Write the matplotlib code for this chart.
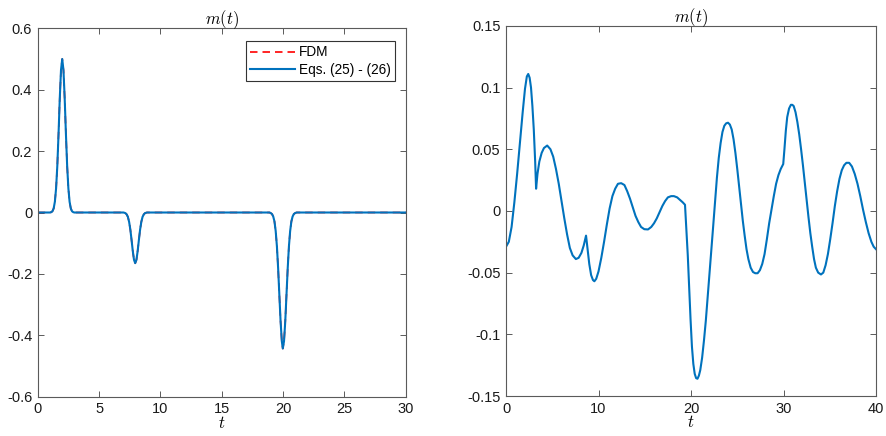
import matplotlib
matplotlib.use("Agg")
import matplotlib.pyplot as plt

plt.rcParams['font.family'] = ['Liberation Sans', 'DejaVu Sans']
plt.rcParams['mathtext.fontset'] = 'cm'

# ---- Left panel data ----
t_left = [0.0, 1.0, 1.1, 1.2, 1.3, 1.4, 1.5, 1.6, 1.7, 1.8, 1.9, 2.0, 2.1, 2.2, 2.3, 2.4,
          2.5, 2.6, 2.7, 2.8, 2.9, 3.0,
          7.0, 7.15, 7.25, 7.35, 7.45, 7.55, 7.65, 7.75, 7.85, 7.95, 8.05, 8.15, 8.25,
          8.35, 8.45, 8.55, 8.65, 8.75, 8.9,
          18.9, 19.0, 19.1, 19.2, 19.3, 19.4, 19.5, 19.6, 19.7, 19.8, 19.9, 19.98,
          20.08, 20.18, 20.28, 20.38, 20.48, 20.58, 20.68, 20.78, 20.88, 20.98, 21.1,
          30.0]
m_left = [0.0, 0.0, 0.001, 0.004, 0.013, 0.035, 0.079, 0.153, 0.257, 0.372, 0.464, 0.5,
          0.464, 0.372, 0.257, 0.153, 0.079, 0.035, 0.013, 0.004, 0.001, 0.0,
          0.0, -0.002, -0.006, -0.014, -0.030, -0.055, -0.089, -0.125, -0.154, -0.165,
          -0.154, -0.125, -0.089, -0.055, -0.030, -0.014, -0.006, -0.002, 0.0,
          0.0, -0.002, -0.005, -0.013, -0.029, -0.060, -0.110, -0.182, -0.269, -0.355,
          -0.419, -0.443, -0.419, -0.355, -0.269, -0.182, -0.110, -0.060, -0.029,
          -0.013, -0.005, -0.002, 0.0,
          0.0]

# ---- Right panel data ----
t_right = [0.0, 0.3, 0.6, 0.9, 1.2, 1.5, 1.8, 2.05, 2.25, 2.4, 2.55, 2.7, 2.85, 3.0, 3.15,
           3.25, 3.4, 3.6, 3.85, 4.1, 4.45, 4.8, 5.1, 5.4, 5.7, 6.0, 6.3, 6.6, 6.9, 7.2,
           7.55, 7.85, 8.15, 8.4, 8.65, 8.8, 9.0, 9.2, 9.4, 9.55, 9.75, 10.0, 10.3, 10.6,
           10.9, 11.2, 11.5, 11.8, 12.1, 12.45, 12.8, 13.1, 13.4, 13.7, 14.0, 14.3, 14.6,
           14.95, 15.35, 15.7, 16.0, 16.3, 16.6, 16.9, 17.2, 17.5, 17.85, 18.15, 18.5,
           18.8, 19.1, 19.35, 19.5, 19.65, 19.8, 19.95, 20.1, 20.25, 20.4, 20.55, 20.7,
           20.85, 21.0, 21.2, 21.4, 21.6, 21.8, 22.0, 22.2, 22.4, 22.6, 22.8, 23.0, 23.2,
           23.4, 23.6, 23.8, 24.0, 24.2, 24.4, 24.6, 24.8, 25.0, 25.2, 25.4, 25.6, 25.8,
           26.0, 26.2, 26.45, 26.7, 26.95, 27.2, 27.45, 27.7, 27.95, 28.2, 28.45, 28.7,
           28.95, 29.2, 29.45, 29.7, 29.97, 30.1, 30.25, 30.4, 30.6, 30.8, 30.95, 31.1,
           31.3, 31.5, 31.7, 31.9, 32.1, 32.3, 32.5, 32.7, 32.9, 33.1, 33.3, 33.5, 33.75,
           34.05, 34.3, 34.55, 34.8, 35.05, 35.3, 35.55, 35.8, 36.05, 36.3, 36.55, 36.8,
           37.1, 37.4, 37.7, 38.0, 38.3, 38.6, 38.9, 39.2, 39.5, 39.75, 40.0]
m_right = [-0.029, -0.025, -0.013, 0.007, 0.030, 0.055, 0.080, 0.099, 0.109, 0.111, 0.108,
           0.100, 0.085, 0.066, 0.040, 0.018, 0.030, 0.040, 0.047, 0.051, 0.053, 0.050,
           0.044, 0.034, 0.022, 0.008, -0.006, -0.019, -0.030, -0.036, -0.039, -0.038,
           -0.034, -0.028, -0.020, -0.030, -0.043, -0.052, -0.056, -0.057, -0.055, -0.049,
           -0.038, -0.025, -0.011, 0.002, 0.012, 0.018, 0.022, 0.0225, 0.021, 0.016,
           0.010, 0.003, -0.004, -0.009, -0.013, -0.0148, -0.015, -0.013, -0.010, -0.006,
           -0.001, 0.004, 0.008, 0.011, 0.012, 0.012, 0.011, 0.009, 0.007, 0.005, -0.015,
           -0.036, -0.062, -0.088, -0.110, -0.124, -0.132, -0.1355, -0.136, -0.1335,
           -0.129, -0.119, -0.105, -0.089, -0.070, -0.050, -0.031, -0.012, 0.008, 0.027,
           0.043, 0.055, 0.064, 0.069, 0.071, 0.0715, 0.070, 0.066, 0.058, 0.047, 0.034,
           0.020, 0.006, -0.008, -0.020, -0.031, -0.039, -0.046, -0.0495, -0.0505,
           -0.0505, -0.048, -0.043, -0.035, -0.023, -0.010, 0.001, 0.012, 0.022, 0.029,
           0.034, 0.038, 0.050, 0.065, 0.076, 0.083, 0.086, 0.086, 0.085, 0.080, 0.072,
           0.062, 0.050, 0.037, 0.023, 0.009, -0.005, -0.018, -0.029, -0.039, -0.046,
           -0.050, -0.0515, -0.050, -0.044, -0.035, -0.023, -0.010, 0.004, 0.016, 0.026,
           0.033, 0.037, 0.039, 0.039, 0.036, 0.030, 0.022, 0.012, 0.001, -0.009, -0.018,
           -0.025, -0.029, -0.031]

left_yticks = [-0.6, -0.4, -0.2, 0, 0.2, 0.4, 0.6]
left_xticks = [0, 5, 10, 15, 20, 25, 30]
right_yticks = [-0.15, -0.1, -0.05, 0, 0.05, 0.1, 0.15]
right_xticks = [0, 10, 20, 30, 40]

BLUE = '#0072BD'
SPINE = '#5a5a5a'

fig = plt.figure(figsize=(8.87, 4.36), dpi=100)
ax1 = fig.add_axes([0.0425, 0.0901, 0.4149, 0.845])
ax2 = fig.add_axes([0.5705, 0.0917, 0.4171, 0.849])


def style(ax, xticks, yticks, xlim, ylim):
    ax.set_xlim(*xlim)
    ax.set_ylim(*ylim)
    ax.set_xticks(xticks)
    ax.set_yticks(yticks)
    ax.set_yticklabels([('%g' % v) for v in yticks])
    ax.set_xticklabels([('%g' % v) for v in xticks])
    ax.tick_params(direction='in', top=True, right=True, length=4, width=0.7,
                   color=SPINE, labelsize=10.5, labelcolor='#1a1a1a', pad=4)
    for s in ax.spines.values():
        s.set_color(SPINE)
        s.set_linewidth(0.8)
    ax.set_title('$m(t)$', fontsize=12, pad=3)
    ax.set_xlabel('$t$', fontsize=12, labelpad=-1)


ax1.plot(t_left, m_left, color='red', linestyle='--', dashes=(4.5, 3), linewidth=1.2,
         label='FDM')
ax1.plot(t_left, m_left, color=BLUE, linewidth=1.5, label='Eqs. (25) - (26)',
         solid_joinstyle='round')
style(ax1, left_xticks, left_yticks, (0, 30), (-0.6, 0.6))
leg = ax1.legend(loc='upper right', bbox_to_anchor=(0.97, 0.965), fontsize=9.8,
                 fancybox=False, framealpha=1, edgecolor='#333333',
                 handlelength=3.3, borderpad=0.3, labelspacing=0.25,
                 handletextpad=0.3, borderaxespad=0)
leg.get_frame().set_linewidth(0.8)

ax2.plot(t_right, m_right, color=BLUE, linewidth=1.5, solid_joinstyle='round')
style(ax2, right_xticks, right_yticks, (0, 40), (-0.15, 0.15))

fig.savefig('out.png', dpi=100)
